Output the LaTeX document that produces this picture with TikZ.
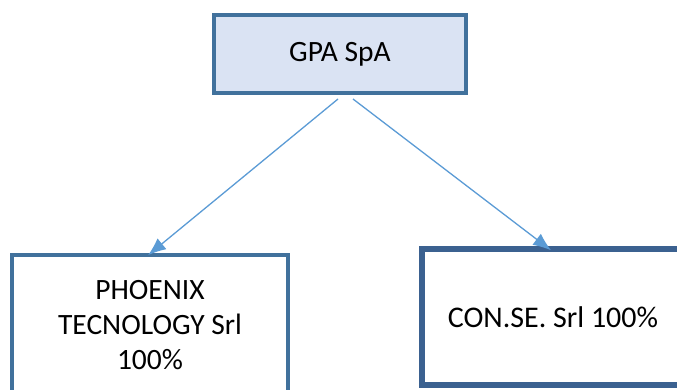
\documentclass[tikz,border=0pt]{standalone}
\usepackage{fontspec}
\setmainfont{Carlito}
\usetikzlibrary{arrows.meta}
\definecolor{boxline}{HTML}{41719C}
\definecolor{boxdark}{HTML}{3B6190}
\definecolor{boxfill}{HTML}{DAE3F3}
\definecolor{arrowblue}{HTML}{5B9BD5}
\begin{document}
\begin{tikzpicture}[x=1pt,y=-1pt]
\useasboundingbox (0,0) rectangle (677,390);
\clip (0,0) rectangle (677,390);
\node[draw=boxline,fill=boxfill,line width=4pt,minimum width=252pt,minimum height=78pt,font=\fontsize{29.5}{35}\selectfont] (gpa) at (340,54) {GPA SpA};
\node[draw=boxline,line width=3.5pt,minimum width=276pt,minimum height=140pt,align=center,font=\fontsize{29.5}{35}\selectfont] (phoenix) at (150,325) {PHOENIX\\TECNOLOGY Srl\\100\%};
\node[draw=boxdark,line width=5.5pt,minimum width=262pt,minimum height=136pt,font=\fontsize{30}{35}\selectfont] (conse) at (553,317) {CON.SE. Srl 100\%};
\coordinate (fromL) at (338,99);
\coordinate (fromR) at (353,99);
\draw[->,>={Latex[length=18pt,width=14pt]},arrowblue,line width=1.3pt] (fromL) -- ([xshift=-2pt,yshift=-2pt]phoenix.north);
\draw[->,>={Latex[length=18pt,width=14pt]},arrowblue,line width=1.3pt] (fromR) -- ([xshift=-2pt,yshift=-4pt]conse.north);
\end{tikzpicture}
\end{document}
